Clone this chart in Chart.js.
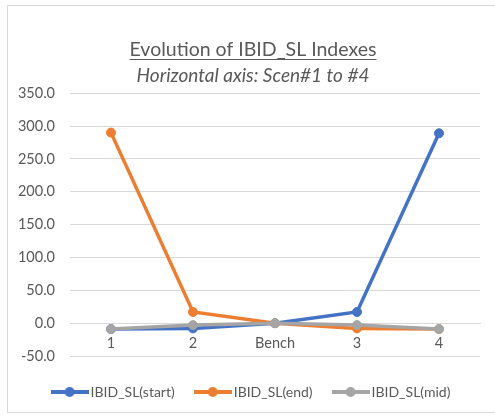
<!DOCTYPE html>
<html>
<head>
<meta charset="utf-8">
<script src="https://cdn.jsdelivr.net/npm/chart.js@4"></script>
<style>
html,body{margin:0;padding:0;background:#fff;}
#wrap{width:495px;height:415px;position:relative;}
</style>
</head>
<body>
<div id="wrap"><canvas id="c" width="495" height="415"></canvas></div>
<script>
const categories = ['1', '2', 'Bench', '3', '4'];
const seriesNames = ['IBID_SL(start)', 'IBID_SL(end)', 'IBID_SL(mid)'];
const startValues = [-9, -8, 0, 17, 289];
const endValues = [290, 17, 0, -8, -9];
const midValues = [-9, -3, 0, -3, -9];
const yTicks = [-50, 0, 50, 100, 150, 200, 250, 300, 350];
const colors = ['#4472C4', '#ED7D31', '#A5A5A5'];

const FONT = 'Lato, "Open Sans", sans-serif';
const TEXT = '#595959';
const TITLE_SIZE = 19.5;

function legendIcon(color) {
  const cv = document.createElement('canvas');
  cv.width = 38; cv.height = 12;
  const g = cv.getContext('2d');
  g.strokeStyle = color; g.lineWidth = 4;
  g.beginPath(); g.moveTo(0, 6); g.lineTo(38, 6); g.stroke();
  g.fillStyle = color;
  g.beginPath(); g.arc(19, 6, 5, 0, Math.PI * 2); g.fill();
  return cv;
}
const icons = colors.map(legendIcon);

const frame = {
  id: 'frame',
  beforeDraw(chart) {
    const ctx = chart.ctx;
    ctx.save();
    ctx.strokeStyle = '#d9d9d9';
    ctx.lineWidth = 1;
    ctx.strokeRect(7.5, 5.5, 495, 407);
    ctx.restore();
  },
  afterDraw(chart) {
    const t = chart.titleBlock;
    if (!t) return;
    const ctx = chart.ctx;
    ctx.save();
    ctx.font = TITLE_SIZE + 'px ' + FONT;
    const w = ctx.measureText(t.options.text).width;
    const cx = (t.left + t.right) / 2;
    const y = t.top + t.options.padding.top + 21;
    ctx.strokeStyle = TEXT;
    ctx.lineWidth = 1;
    ctx.beginPath();
    ctx.moveTo(cx - w / 2, Math.round(y) + 0.5);
    ctx.lineTo(cx + w / 2, Math.round(y) + 0.5);
    ctx.stroke();
    ctx.restore();
  }
};

const datasets = [startValues, endValues, midValues].map((vals, i) => ({
  label: seriesNames[i],
  data: vals,
  borderColor: colors[i],
  backgroundColor: colors[i],
  pointBackgroundColor: colors[i],
  pointBorderColor: colors[i],
  borderWidth: 3.5,
  pointRadius: 4.5,
  pointBorderWidth: 1,
  tension: 0,
  order: 3 - i
}));

new Chart(document.getElementById('c'), {
  type: 'line',
  data: { labels: categories, datasets },
  options: {
    responsive: false,
    animation: false,
    layout: { padding: { top: 0, left: 11, right: 0, bottom: 6 } },
    plugins: {
      title: {
        display: true,
        text: 'Evolution of IBID_SL Indexes',
        color: TEXT,
        font: { family: FONT, size: TITLE_SIZE, weight: 'normal' },
        padding: { top: 38, bottom: 2 }
      },
      subtitle: {
        display: true,
        text: 'Horizontal axis: Scen#1 to #4',
        color: TEXT,
        font: { family: FONT, size: 19, style: 'italic', weight: 'normal' },
        padding: { top: 1, bottom: 6 }
      },
      legend: {
        position: 'bottom',
        title: { display: true, text: '', font: { size: 1 }, padding: { top: 0, bottom: 3.8 } },
        labels: {
          color: TEXT,
          font: { family: FONT, size: 14 },
          usePointStyle: true,
          pointStyleWidth: 28,
          boxHeight: 12,
          padding: 24,
          sort: (a, b) => a.datasetIndex - b.datasetIndex,
          generateLabels(chart) {
            const items = Chart.defaults.plugins.legend.labels.generateLabels(chart);
            items.forEach(it => { it.pointStyle = icons[it.datasetIndex]; });
            return items;
          }
        }
      },
      tooltip: { enabled: false }
    },
    scales: {
      x: {
        position: { y: 0 },
        offset: true,
        grid: { display: false },
        border: { display: true, color: '#d9d9d9', width: 1 },
        ticks: { color: TEXT, font: { family: FONT, size: 14.5 }, padding: 3 }
      },
      y: {
        min: yTicks[0],
        max: yTicks[yTicks.length - 1],
        afterBuildTicks(scale) { scale.ticks = yTicks.map(v => ({ value: v })); },
        afterFit(scale) { scale.width = 59; },
        grid: { color: '#d9d9d9', drawTicks: false },
        border: { display: false },
        ticks: {
          color: TEXT,
          font: { family: FONT, size: 14.5 },
          padding: 15,
          callback: v => Number(v).toFixed(1)
        }
      },
      yRight: {
        position: 'right',
        display: true,
        min: yTicks[0],
        max: yTicks[yTicks.length - 1],
        afterFit(scale) { scale.width = 15; },
        grid: { display: false, drawTicks: false },
        border: { display: false },
        ticks: { display: false }
      }
    }
  },
  plugins: [frame]
});
</script>
</body>
</html>
